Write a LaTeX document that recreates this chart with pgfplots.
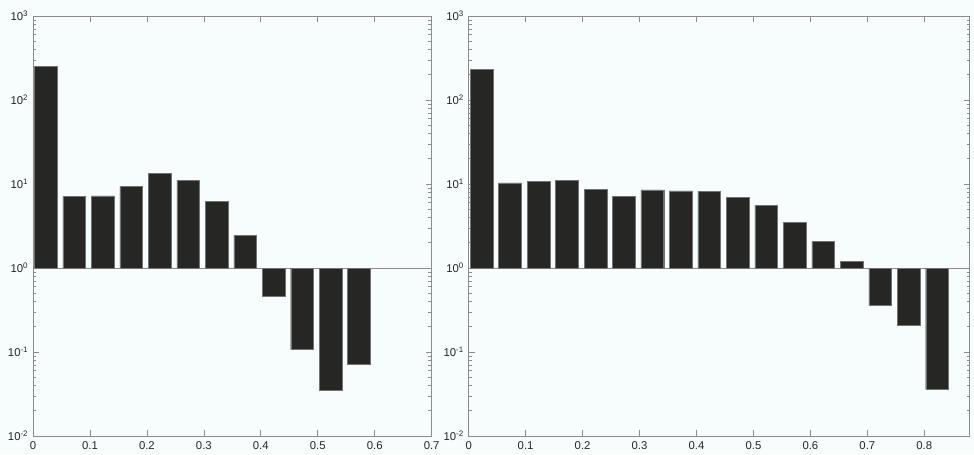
\documentclass[border=0pt]{standalone}
\usepackage{fontspec}
\setmainfont{Liberation Sans}
\usepackage{pgfplots}
\pgfplotsset{compat=1.18}
\definecolor{bg}{RGB}{247,252,252}
\definecolor{barc}{RGB}{38,38,36}
\definecolor{axc}{RGB}{140,140,140}
\pgfplotsset{mstyle/.style={
  scale only axis, height=315pt,
  ymin=1e-2, ymax=1e3, log origin y=0,
  axis line style={axc, line width=0.6pt},
  every tick/.style={axc, line width=0.5pt},
  major tick length=4.5pt, minor tick length=2.5pt,
  tick align=inside,
  ytick={1e-2,1e-1,1,10,100,1000},
  minor ytick={0.02,0.03,0.04,0.05,0.06,0.07,0.08,0.09,
    0.2,0.3,0.4,0.5,0.6,0.7,0.8,0.9,
    2,3,4,5,6,7,8,9,20,30,40,50,60,70,80,90,200,300,400,500,600,700,800,900},
  yticklabels={10\textsuperscript{-2},10\textsuperscript{-1},10\textsuperscript{0},10\textsuperscript{1},10\textsuperscript{2},10\textsuperscript{3}},
  tick label style={font=\fontsize{8.5}{10}\selectfont, text=black!85},
  yticklabel style={xshift=0pt},
  xticklabel style={yshift=-0.5pt},
  axis background/.style={fill=bg},
  xmin=0,
}}
\begin{document}
\begin{tikzpicture}
\fill[bg] (0,0) rectangle (730.5pt,340.5pt);
\path[use as bounding box] (0,0) rectangle (730.5pt,340.5pt);
\begin{axis}[ymode=log, mstyle, at={(24.75pt,13.5pt)}, anchor=south west, width=299pt,
  xmax=0.7, xtick={0,0.1,0.2,0.3,0.4,0.5,0.6,0.7},
  xticklabels={0,0.1,0.2,0.3,0.4,0.5,0.6,0.7}]
\addplot[axc, line width=0.6pt, no markers] coordinates {(0,1) (0.7,1)};
\addplot[ybar, bar width=0.04, fill=barc, draw=black!55, line width=0.3pt] coordinates {
(0.0225,250) (0.0725,7.1) (0.1225,7.2) (0.1725,9.3) (0.2225,13.3) (0.2725,11.1)
(0.3225,6.2) (0.3725,2.47) (0.4225,0.46) (0.4725,0.107) (0.5225,0.035) (0.5725,0.071)};
\end{axis}
\begin{axis}[ymode=log, mstyle, at={(351.5pt,13.5pt)}, anchor=south west, width=375.9pt,
  xmax=0.88, xtick={0,0.1,0.2,0.3,0.4,0.5,0.6,0.7,0.8},
  xticklabels={0,0.1,0.2,0.3,0.4,0.5,0.6,0.7,0.8}]
\addplot[axc, line width=0.6pt, no markers] coordinates {(0,1) (0.88,1)};
\addplot[ybar, bar width=0.04, fill=barc, draw=black!55, line width=0.3pt] coordinates {
(0.0225,230) (0.0725,10.3) (0.1225,10.8) (0.1725,11.1) (0.2225,8.6) (0.2725,7.1)
(0.3225,8.5) (0.3725,8.3) (0.4225,8.2) (0.4725,7.0) (0.5225,5.6) (0.5725,3.5)
(0.6225,2.06) (0.6725,1.2) (0.7225,0.36) (0.7725,0.21) (0.8225,0.036)};
\end{axis}
\end{tikzpicture}
\end{document}
